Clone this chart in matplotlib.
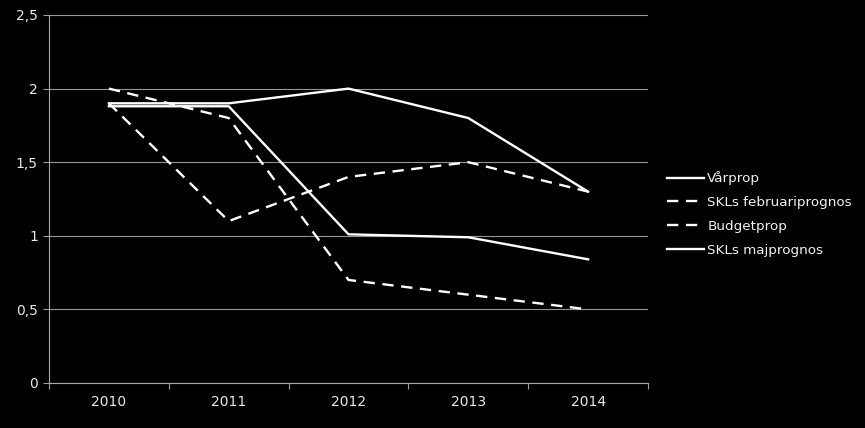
import matplotlib
matplotlib.use("Agg")
import matplotlib.pyplot as plt

years = ["2010", "2011", "2012", "2013", "2014"]
varprop = [1.90, 1.90, 2.00, 1.80, 1.30]
skl_feb = [1.90, 1.10, 1.40, 1.50, 1.30]
budgetprop = [2.00, 1.80, 0.70, 0.60, 0.50]
skl_maj = [1.88, 1.88, 1.01, 0.99, 0.84]
yticks = [0, 0.5, 1, 1.5, 2, 2.5]
ytick_labels = ["0", "0,5", "1", "1,5", "2", "2,5"]

plt.rcParams['font.family'] = ['DejaVu Sans']
fig = plt.figure(figsize=(8.65, 4.28), dpi=100, facecolor="black")
ax = fig.add_axes([49/865, 45/428, 599/865, 368/428], facecolor="black")

x = list(range(len(years)))
lw = 1.7
ax.plot(x, varprop, color="white", lw=lw, label="Vårprop")
ax.plot(x, skl_feb, color="white", lw=lw, dashes=(4.8, 3.2), label="SKLs februariprognos")
ax.plot(x, budgetprop, color="white", lw=lw, dashes=(4.8, 3.2), label="Budgetprop")
ax.plot(x, skl_maj, color="white", lw=lw, label="SKLs majprognos")

ax.set_xlim(-0.5, len(years) - 0.5)
ax.set_ylim(0, 2.5)
ax.set_yticks(yticks)
ax.set_yticklabels(ytick_labels)
ax.set_xticks([i - 0.5 for i in range(len(years) + 1)], minor=False)
ax.set_xticklabels([])
ax.set_xticks(x, minor=True)
ax.set_xticklabels(years, minor=True)
ax.tick_params(axis="x", which="major", length=4, color="#a0a0a0", width=0.8, direction="out")
ax.tick_params(axis="x", which="minor", length=0, labelcolor="#e8e8e8", labelsize=10, pad=9)
ax.tick_params(axis="y", length=4, color="#a0a0a0", width=0.8, labelcolor="#e8e8e8", labelsize=10, pad=4)

ax.grid(axis="y", color="#959595", lw=0.8)
ax.set_axisbelow(True)
for s in ["top", "right"]:
    ax.spines[s].set_visible(False)
for s in ["left", "bottom"]:
    ax.spines[s].set_color("#a8a8a8")
    ax.spines[s].set_linewidth(0.8)

leg = ax.legend(loc="upper left", bbox_to_anchor=(662/865, 1 - 166/428), bbox_transform=fig.transFigure,
                frameon=False, fontsize=9.7, labelcolor="#f0f0f0", handlelength=2.75,
                handletextpad=0.2, labelspacing=0.8, borderaxespad=0)

fig.savefig("out.png", dpi=100, facecolor="black")
